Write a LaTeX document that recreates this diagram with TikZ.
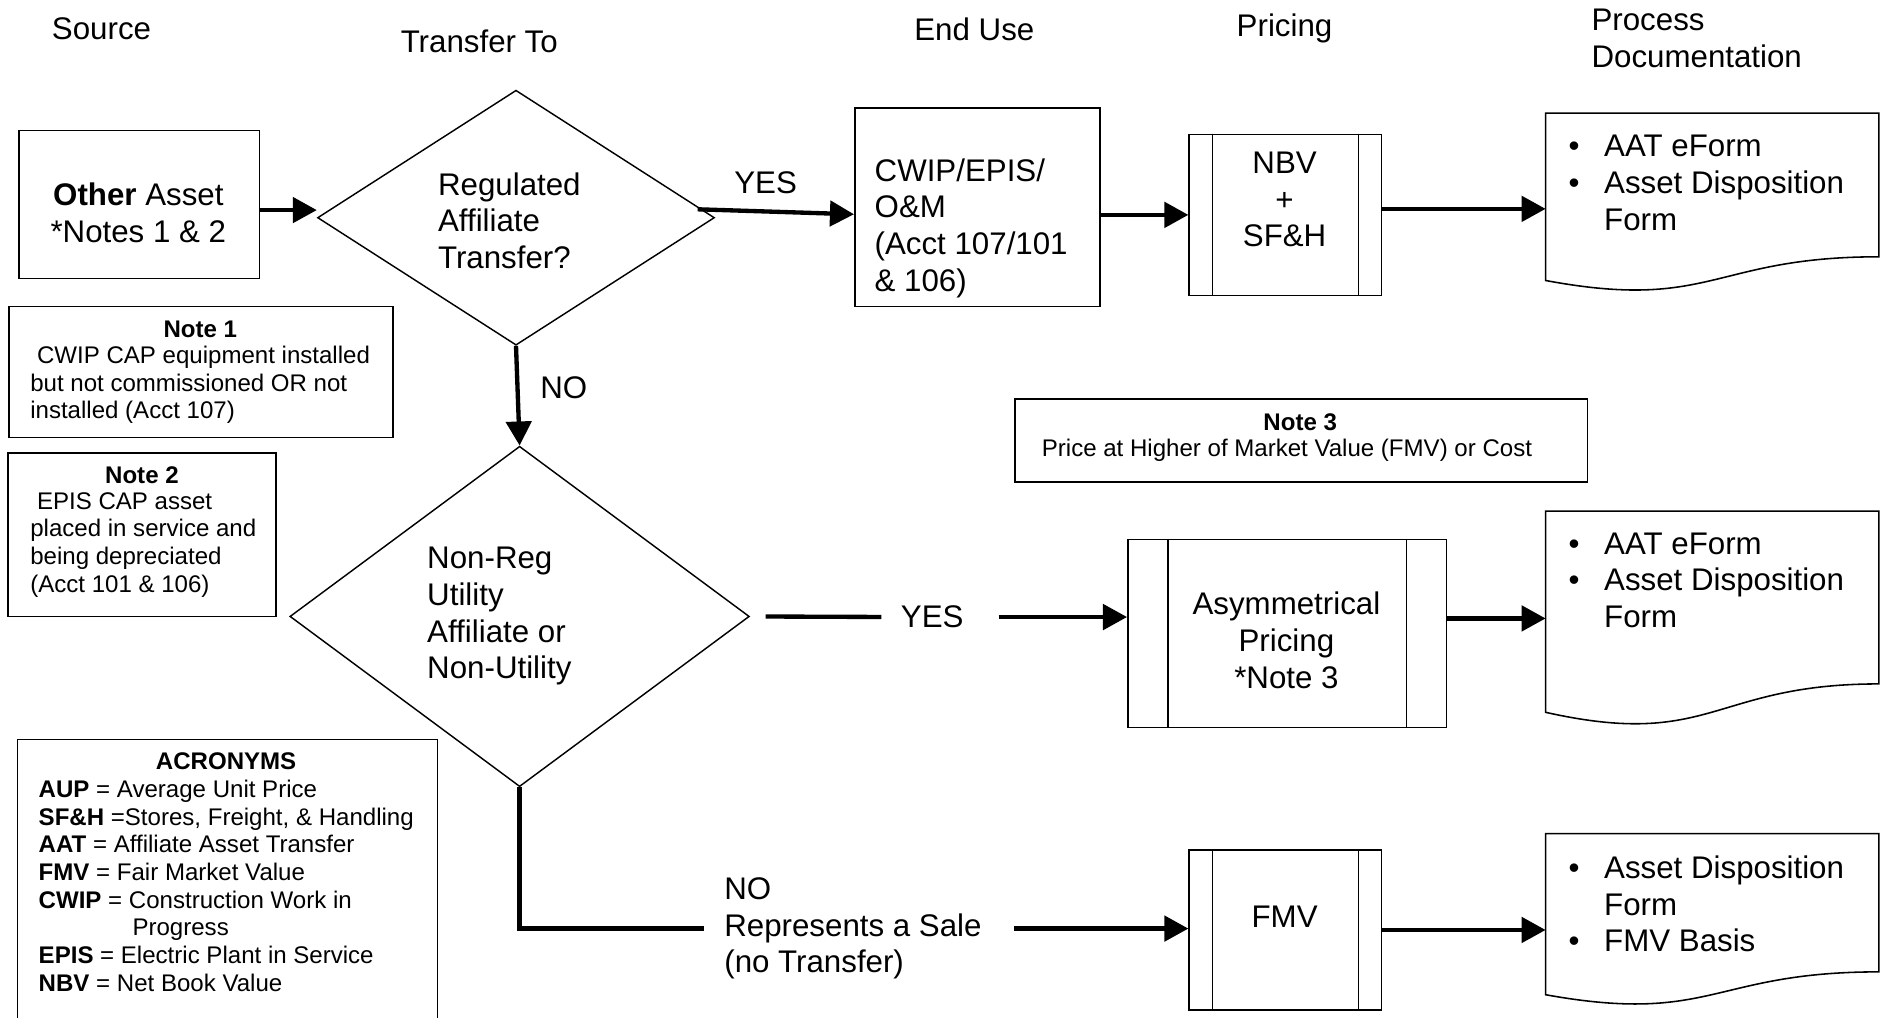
\documentclass[tikz,border=0pt]{standalone}
\usepackage{fontspec}
\setmainfont{Liberation Sans}
\usetikzlibrary{shapes.geometric,arrows.meta,calc}
\newcommand\bigf{\fontsize{26}{30.5}\selectfont}
\newcommand\smf{\fontsize{20}{23}\selectfont}
\newcommand\bul{\makebox[29.5pt][l]{•}}
\newcommand\nobul{\hspace*{29.5pt}}
\begin{document}
\begin{tikzpicture}[x=1pt,y=-1pt,
  box/.style={draw,line width=1.3pt,inner sep=0pt,rectangle},
  ghost/.style={inner sep=0pt,rectangle},
  dia/.style={draw,line width=1.2pt,diamond,inner sep=0pt},
  edge/.style={line width=1.3pt},
  txt/.style={inner sep=0pt,align=left,font=\bigf},
  stxt/.style={inner sep=0pt,align=left,font=\smf},
  shead/.style={inner sep=0pt,font=\smf\bfseries},
  conn/.style={line width=3.6pt},
  arr/.style={conn,-{Triangle[length=20pt,width=21pt]}},
]
\useasboundingbox (0,0) rectangle (1568,846);
\clip (0,0) rectangle (1568,846);
\fill[white] (0,0) rectangle (1568,846);

% headers
\node[txt,anchor=west] (hsrc) at (43,24) {Source};
\node[txt,anchor=west] (hto) at (333,34) {Transfer To};
\node[txt,anchor=west] (hend) at (760,24) {End Use};
\node[txt,anchor=west] (hprice) at (1028,24) {Pricing};
\node[txt,anchor=west] (hdoc) at (1323,32) {Process\\Documentation};

% source box
\node[box,anchor=north west,minimum width=200pt,minimum height=123pt] (other) at (15,108) {};
\node[txt,align=center] (othert) at (115,177) {\textbf{Other} Asset\\*Notes 1 \& 2};

% decision 1
\node[dia,minimum width=330pt,minimum height=212pt] (d1) at (429,181) {};
\node[txt,anchor=west] (d1t) at (364,183.5) {Regulated\\Affiliate\\Transfer?};

% CWIP box
\node[box,anchor=north west,minimum width=204pt,minimum height=165pt] (cwip) at (710,89) {};
\node[txt,anchor=west] (cwipt) at (727,189.5) {CWIP/EPIS/\\O\&M\\(Acct 107/101\\\& 106)};

% NBV predefined process
\node[box,anchor=north west,minimum width=160pt,minimum height=134pt] (nbv) at (988,111) {};
\draw[edge] ($(nbv.north west)+(20,0)$) -- ($(nbv.south west)+(20,0)$);
\draw[edge] ($(nbv.north east)+(-20,0)$) -- ($(nbv.south east)+(-20,0)$);
\node[txt,align=center] (nbvt) at (1068,166) {NBV\\+\\SF\&H};

% doc 1
\node[ghost,anchor=north west,minimum width=277pt,minimum height=149pt] (doc1) at (1285,94) {};
\draw[edge] (1285,94) -- (1562,94) -- (1562,213.5) .. controls (1423.5,213.5) and (1423.5,259) .. (1285,233.2) -- cycle;
\node[txt,anchor=west] (doc1t) at (1304,152) {\bul AAT eForm\\\bul Asset Disposition\\\nobul Form};

% notes 1 and 2
\node[box,anchor=north west,minimum width=319pt,minimum height=109pt] (n1) at (7,254) {};
\node[shead] (n1h) at (166.5,274) {Note 1};
\node[stxt,anchor=west] (n1b) at (25,320) {\hspace*{0.28em}CWIP CAP equipment installed\\but not commissioned OR not\\installed (Acct 107)};

\node[box,anchor=north west,minimum width=223pt,minimum height=136pt] (n2) at (6,376) {};
\node[shead] (n2h) at (118,395) {Note 2};
\node[stxt,anchor=west] (n2b) at (25,453) {\hspace*{0.28em}EPIS CAP asset\\placed in service and\\being depreciated\\(Acct 101 \& 106)};

% note 3
\node[box,anchor=north west,minimum width=476pt,minimum height=69pt] (n3) at (843,331) {};
\node[shead] (n3h) at (1081,351) {Note 3};
\node[stxt,anchor=west] (n3b) at (866,374) {Price at Higher of Market Value (FMV) or Cost};

% acronyms
\node[box,anchor=north west,minimum width=349pt,minimum height=260pt] (acro) at (14,614) {};
\node[shead] (acroh) at (188,633) {ACRONYMS};
\node[stxt,anchor=west] (acrob) at (32,736.5) {\textbf{AUP} = Average Unit Price\\\textbf{SF\&H} =Stores, Freight, \& Handling\\\textbf{AAT} = Affiliate Asset Transfer\\\textbf{FMV} = Fair Market Value\\\textbf{CWIP} = Construction Work in\\\hspace*{78pt}Progress\\\textbf{EPIS} = Electric Plant in Service\\\textbf{NBV} = Net Book Value};

% decision 2
\node[dia,minimum width=382pt,minimum height=283pt] (d2) at (432,512.5) {};
\node[txt,anchor=west] (d2t) at (355,512.5) {Non-Reg\\Utility\\Affiliate or\\Non-Utility};

% asymmetrical pricing
\node[box,anchor=north west,minimum width=265pt,minimum height=156pt] (asym) at (937,448) {};
\draw[edge] ($(asym.north west)+(34,0)$) -- ($(asym.south west)+(34,0)$);
\draw[edge] ($(asym.north east)+(-34,0)$) -- ($(asym.south east)+(-34,0)$);
\node[txt,align=center] (asymt) at (1069.5,532.5) {Asymmetrical\\Pricing\\*Note 3};

% doc 2
\node[ghost,anchor=north west,minimum width=277pt,minimum height=179pt] (doc2) at (1285,425) {};
\draw[edge] (1285,425) -- (1562,425) -- (1562,568.6) .. controls (1423.5,568.6) and (1423.5,623.2) .. (1285,592.2) -- cycle;
\node[txt,anchor=west] (doc2t) at (1304,482.5) {\bul AAT eForm\\\bul Asset Disposition\\\nobul Form};

% FMV
\node[box,anchor=north west,minimum width=160pt,minimum height=133pt] (fmv) at (988,706) {};
\draw[edge] ($(fmv.north west)+(20,0)$) -- ($(fmv.south west)+(20,0)$);
\draw[edge] ($(fmv.north east)+(-20,0)$) -- ($(fmv.south east)+(-20,0)$);
\node[txt] (fmvt) at (1068,762) {FMV};

% doc 3
\node[ghost,anchor=north west,minimum width=277pt,minimum height=143.5pt] (doc3) at (1285,693) {};
\draw[edge] (1285,693) -- (1562,693) -- (1562,808) .. controls (1423.5,808) and (1423.5,852) .. (1285,827) -- cycle;
\node[txt,anchor=west] (doc3t) at (1304,751.5) {\bul Asset Disposition\\\nobul Form\\\bul FMV Basis};

% labels
\node[txt] (yes1) at (636.5,152) {YES};
\node[txt,anchor=west] (no1) at (449,322) {NO};
\node[txt] (yes2) at (775,513) {YES};
\node[txt,anchor=west] (no2) at (602,772) {NO\\Represents a Sale\\(no Transfer)};

% connectors
\draw[arr] ([yshift=-4.5pt]other.east) -- ([yshift=-4.5pt]other.east -| d1.west);
\coordinate (y1s) at (580,174);
\draw[arr] (y1s) -- ([yshift=-6pt]cwip.west);
\draw[arr] (cwip.east |- nbv.west) -- (nbv.west);
\draw[arr] ([yshift=5pt]nbv.east) -- ([yshift=5pt]nbv.east -| doc1.west);
\draw[arr] (d1.south) -- (d2.north);
\draw[conn,shorten <=13pt,shorten >=16pt] (d2.east) -- (yes2.west);
\draw[arr,shorten <=29pt] (yes2.east) -- (yes2.east -| asym.west);
\draw[arr] ([yshift=12.5pt]asym.east) -- ([yshift=12.5pt]asym.east -| doc2.west);
\draw[conn,shorten >=17pt] (d2.south) |- (no2.west);
\draw[arr,shorten <=27pt] (no2.east) -- (no2.east -| fmv.west);
\draw[arr] (fmv.east) -- (fmv.east -| doc3.west);
\end{tikzpicture}
\end{document}
